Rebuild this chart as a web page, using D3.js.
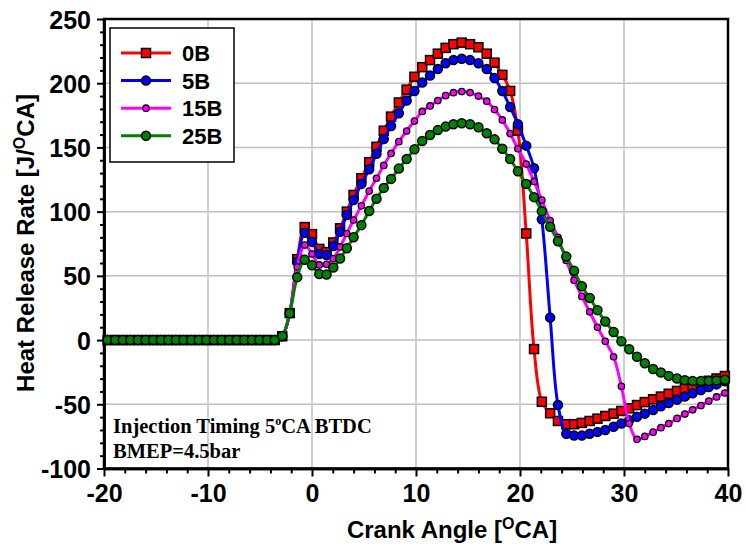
<!DOCTYPE html>
<html>
<head>
<meta charset="utf-8">
<script src="https://cdn.jsdelivr.net/npm/d3@7/dist/d3.min.js"></script>
<style>
  html, body { margin: 0; padding: 0; background: #fff; }
  svg { display: block; }
  text { font-family: "Liberation Sans", Arial, sans-serif; font-weight: bold; fill: #000; }
  .serif { font-family: "Liberation Serif", "Times New Roman", serif; }
</style>
</head>
<body>
<svg id="chart" width="746" height="554"></svg>
<script>
// ---- data ----
const crankAngle = [
  -19.65, -18.92, -18.19, -17.46, -16.73, -16.0, -15.27, -14.54, -13.81, -13.08,
  -12.35, -11.62, -10.89, -10.16, -9.43, -8.7, -7.97, -7.24, -6.51, -5.78,
  -5.05, -4.32, -3.59, -2.86,
  -2.14, -1.42, -0.7, 0.0, 0.7, 1.4, 2.05, 2.7, 3.35, 4.0,
  4.75, 5.5, 6.2, 6.9, 7.6, 8.35, 9.1, 9.85, 10.6, 11.35,
  12.1, 12.85, 13.6, 14.4, 15.2, 16.0, 16.8, 17.55, 18.3, 19.05,
  19.8, 20.6, 21.35, 22.1, 22.9, 23.65, 24.45, 25.2, 25.95, 26.7,
  27.45, 28.2, 29.0, 29.75, 30.5, 31.25, 32.0, 32.8, 33.55, 34.3,
  35.1, 35.85, 36.6, 37.4, 38.15, 38.9, 39.7
];
const hrr0B = [
  0, 0, 0, 0, 0, 0, 0, 0, 0, 0, 0, 0, 0, 0, 0, 0, 0, 0, 0, 0, 0, 0, 0, 3,
  21, 63, 88, 82.5, 71, 68.5, 76, 87, 100, 113,
  126, 138.5, 150.5, 163, 174, 185, 195, 205, 212.5, 218,
  223, 227.5, 230.4, 231.6, 230.4, 228, 223, 216, 206.5, 194,
  163, 83, -7, -48, -57, -63, -65.5, -65.5, -64.5, -63,
  -61.2, -59.1, -57.3, -55.2, -53.1, -50.6, -48.3, -46.1, -44, -41.8,
  -39.6, -37.6, -35.7, -33.6, -31.7, -29.9, -28
];
const hrr5B = [
  0, 0, 0, 0, 0, 0, 0, 0, 0, 0, 0, 0, 0, 0, 0, 0, 0, 0, 0, 0, 0, 0, 0, 3,
  21, 61, 83.6, 76.6, 67, 66.3, 73.3, 84.4, 97.4, 109,
  121.6, 133, 145, 156.6, 166.7, 176.6, 186.5, 194, 200.5, 206,
  211, 215.6, 218, 219, 218, 215.6, 211, 204, 194, 181.5,
  168, 151.4, 133.8, 94, 17.5, -50.5, -73, -74.4, -74.4, -73,
  -71.5, -70, -67.5, -65, -62.5, -59.8, -57.3, -54.5, -51.5, -49,
  -46.4, -44, -41.5, -39, -36.6, -34.5, -32
];
const hrr15B = [
  0, 0, 0, 0, 0, 0, 0, 0, 0, 0, 0, 0, 0, 0, 0, 0, 0, 0, 0, 0, 0, 0, 0, 3,
  21, 57, 74, 67, 58.5, 59, 63.5, 72.5, 83, 93.5,
  104.5, 116, 126, 136, 145.3, 154.5, 162.8, 170.5, 178, 182.3,
  186.5, 190.3, 192.6, 193.5, 192.7, 190, 186, 179.5, 171.4, 160.8,
  149, 137, 123.5, 109, 93, 80, 62, 46.6, 34, 22,
  10, -1, -13, -36, -65, -77.3, -75, -71.7, -68.2, -65,
  -61, -57.6, -54.3, -51, -47.5, -44.3, -41.2
];
const hrr25B = [
  0, 0, 0, 0, 0, 0, 0, 0, 0, 0, 0, 0, 0, 0, 0, 0, 0, 0, 0, 0, 0, 0, 0, 3.2,
  20.9, 49, 62.5, 58.3, 51.5, 51, 56.5, 63.5, 71.5, 80,
  89.5, 100.5, 110, 118.5, 125.5, 133.5, 141, 148.5, 155, 159.7,
  163.5, 166.2, 168, 168.8, 168.1, 165.7, 161, 156.3, 149, 141,
  131.4, 121.5, 111.3, 100.4, 88.2, 77, 65, 53.9, 42, 32.7,
  23.3, 14.4, 6.3, -1, -7.2, -13, -18, -22.5, -25.3, -27.9,
  -29.9, -31.2, -31.8, -31.9, -31.8, -31.4, -30.8
];
const seriesNames = ["0B", "5B", "15B", "25B"];
const seriesColors = ["#ff0000", "#0000ff", "#ff00ff", "#008000"];
const seriesMarkers = ["square", "circle", "smallcircle", "circle"];
const xTicks = [-20, -10, 0, 10, 20, 30, 40];
const yTicks = [-100, -50, 0, 50, 100, 150, 200, 250];

// ---- layout ----
const svg = d3.select("#chart");
const L = 104, R = 728, T = 19, B = 468.5;
const x = d3.scaleLinear().domain([-20, 40]).range([L, R]);
const y = d3.scaleLinear().domain([-100, 250]).range([B, T]);
const fmt = d => String(d);

// gridlines
const grid = svg.append("g");
grid.selectAll("line.gx").data(xTicks.slice(1, -1)).join("line")
  .attr("x1", d => x(d)).attr("x2", d => x(d)).attr("y1", T).attr("y2", B)
  .attr("stroke", "#c0c0c0").attr("stroke-width", 1.5);
grid.selectAll("line.gy").data(yTicks.slice(1, -1)).join("line")
  .attr("x1", L).attr("x2", R).attr("y1", d => y(d)).attr("y2", d => y(d))
  .attr("stroke", "#c0c0c0").attr("stroke-width", 1.5);

// frame
svg.append("rect").attr("x", L).attr("y", T).attr("width", R - L).attr("height", B - T)
  .attr("fill", "none").attr("stroke", "#000").attr("stroke-width", 2.5);

// axes
const minorX = d3.range(-20, 40.01, 2).filter(v => !xTicks.includes(v));
const minorY = d3.range(-100, 250.01, 10).filter(v => !yTicks.includes(v));

const xAxis = svg.append("g").attr("transform", `translate(0,${B})`)
  .call(d3.axisBottom(x).tickValues(xTicks).tickSize(8).tickSizeOuter(0).tickPadding(7).tickFormat(fmt));
const xMinor = svg.append("g").attr("transform", `translate(0,${B})`)
  .call(d3.axisBottom(x).tickValues(minorX).tickSize(5).tickSizeOuter(0).tickFormat(""));
const yAxis = svg.append("g").attr("transform", `translate(${L},0)`)
  .call(d3.axisLeft(y).tickValues(yTicks).tickSize(7).tickSizeOuter(0).tickPadding(6).tickFormat(fmt));
const yMinor = svg.append("g").attr("transform", `translate(${L},0)`)
  .call(d3.axisLeft(y).tickValues(minorY).tickSize(4).tickSizeOuter(0).tickFormat(""));
[xAxis, xMinor, yAxis, yMinor].forEach(g => {
  g.select(".domain").attr("stroke", "#000").attr("stroke-width", 2.5);
  g.selectAll(".tick line").attr("stroke", "#000").attr("stroke-width", 2);
  g.selectAll(".tick text").style("font-family", "'Liberation Sans', Arial, sans-serif")
    .style("font-weight", "bold").style("font-size", "25px").attr("fill", "#000");
});
yAxis.selectAll(".tick text").attr("dy", "0.36em");
xAxis.selectAll(".tick text").attr("dy", "0.72em");

// axis titles
const xt = svg.append("text").attr("x", 452).attr("y", 538).attr("text-anchor", "middle")
  .style("font-size", "24px");
xt.append("tspan").text("Crank Angle [");
xt.append("tspan").attr("dy", -9).style("font-size", "16px").text("O");
xt.append("tspan").attr("dy", 9).text("CA]");

const yt = svg.append("text").attr("transform", "translate(34,243) rotate(-90)")
  .attr("text-anchor", "middle").style("font-size", "24px");
yt.append("tspan").text("Heat Release Rate [J/");
yt.append("tspan").attr("dy", -9).style("font-size", "16px").text("O");
yt.append("tspan").attr("dy", 9).text("CA]");

// series
const line = d3.line().curve(d3.curveCatmullRom.alpha(0.5))
  .x(d => x(d[0])).y(d => y(d[1]));
const allSeries = [hrr0B, hrr5B, hrr15B, hrr25B];

function drawMarker(g, type, color, cx, cy) {
  if (type === "square") {
    g.append("rect").attr("x", cx - 4.5).attr("y", cy - 4.5).attr("width", 9).attr("height", 9)
      .attr("fill", color).attr("stroke", "#000").attr("stroke-width", 1.5);
  } else if (type === "smallcircle") {
    g.append("circle").attr("cx", cx).attr("cy", cy).attr("r", 3.2)
      .attr("fill", color).attr("stroke", "#000").attr("stroke-width", 1.3);
  } else {
    g.append("circle").attr("cx", cx).attr("cy", cy).attr("r", 4.5)
      .attr("fill", color).attr("stroke", "#000").attr("stroke-width", 1.5);
  }
}

allSeries.forEach((vals, si) => {
  const pts = crankAngle.map((a, i) => [a, vals[i]]);
  const g = svg.append("g");
  g.append("path").attr("d", line(pts)).attr("fill", "none")
    .attr("stroke", seriesColors[si]).attr("stroke-width", 3);
  pts.forEach(p => drawMarker(g, seriesMarkers[si], seriesColors[si], x(p[0]), y(p[1])));
});

// legend
const lg = svg.append("g");
lg.append("rect").attr("x", 110).attr("y", 28).attr("width", 124).attr("height", 134)
  .attr("fill", "#fff").attr("stroke", "#000").attr("stroke-width", 1.5);
seriesNames.forEach((n, i) => {
  const cy = 53 + i * 27.6;
  lg.append("line").attr("x1", 121).attr("x2", 171).attr("y1", cy).attr("y2", cy)
    .attr("stroke", seriesColors[i]).attr("stroke-width", 3);
  drawMarker(lg, seriesMarkers[i], seriesColors[i], 146, cy);
  lg.append("text").attr("x", 182).attr("y", cy).attr("dy", "0.36em")
    .style("font-size", "22px").text(n);
});

// annotation
const a1 = svg.append("text").attr("class", "serif").attr("x", 113).attr("y", 433)
  .style("font-size", "20.5px");
a1.append("tspan").text("Injection Timing 5");
a1.append("tspan").attr("dy", -8).style("font-size", "12px").text("o");
a1.append("tspan").attr("dy", 8).text("CA BTDC");
svg.append("text").attr("class", "serif").attr("x", 113).attr("y", 458)
  .style("font-size", "20.5px").text("BMEP=4.5bar");
</script>
</body>
</html>
